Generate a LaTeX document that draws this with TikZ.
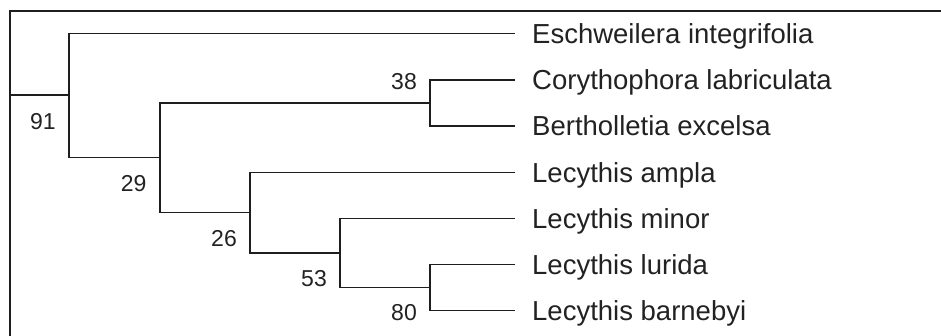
\documentclass[tikz,border=0pt]{standalone}
\usepackage{fontspec}
\setmainfont{Liberation Sans}
\definecolor{ink}{HTML}{1E1E1E}
\definecolor{txt}{HTML}{222222}
\begin{document}
\begin{tikzpicture}[x=1pt,y=-1pt,
  branch/.style={draw=ink,line width=1.4pt,line join=miter},
  frameline/.style={draw=ink,line width=1.5pt},
  leaflabel/.style={anchor=base west,inner sep=0pt,text=txt,font=\fontsize{27.5}{30}\selectfont},
  support/.style={anchor=center,inner sep=0pt,text=txt,font=\fontsize{23}{26}\selectfont}]
\useasboundingbox (0,0) rectangle (941,336);
\fill[white] (0,0) rectangle (941,336);
% frame
\draw[frameline] (10,336) -- (10,11) -- (941,11);
% internal nodes
\coordinate (root) at (10,95);
\coordinate (n91) at (69,95);
\coordinate (n29) at (160,157.8);
\coordinate (n38) at (430,103);
\coordinate (n26) at (250,212.5);
\coordinate (n53) at (340,253);
\coordinate (n80) at (430,287.7);
% leaf tips
\coordinate (t1) at (515,33.7);
\coordinate (t2) at (515,80);
\coordinate (t3) at (515,126);
\coordinate (t4) at (515,172.3);
\coordinate (t5) at (515,218.7);
\coordinate (t6) at (515,264.7);
\coordinate (t7) at (515,310.7);
% branches
\draw[branch] (root) -- (n91);
\draw[branch] (n91) |- (t1);
\draw[branch] (n91) |- (n29);
\draw[branch] (n29) |- (n38);
\draw[branch] (n29) |- (n26);
\draw[branch] (n38) |- (t2);
\draw[branch] (n38) |- (t3);
\draw[branch] (n26) |- (t4);
\draw[branch] (n26) |- (n53);
\draw[branch] (n53) |- (t5);
\draw[branch] (n53) |- (n80);
\draw[branch] (n80) |- (t6);
\draw[branch] (n80) |- (t7);
% leaf labels
\node[leaflabel] (l1) at (532,43.7) {Eschweilera integrifolia};
\node[leaflabel] (l2) at (532,90) {Corythophora labriculata};
\node[leaflabel] (l3) at (532,136) {Bertholletia excelsa};
\node[leaflabel] (l4) at (532,182.3) {Lecythis ampla};
\node[leaflabel] (l5) at (532,228.7) {Lecythis minor};
\node[leaflabel] (l6) at (532,274.7) {Lecythis lurida};
\node[leaflabel] (l7) at (532,320.7) {Lecythis barnebyi};
% support values
\node[support] (s91) at (42.8,121.7) {91};
\node[support] (s29) at (133.7,183.3) {29};
\node[support] (s38) at (404,82) {38};
\node[support] (s26) at (224,238.3) {26};
\node[support] (s53) at (314,278.5) {53};
\node[support] (s80) at (404,313) {80};
\end{tikzpicture}
\end{document}
